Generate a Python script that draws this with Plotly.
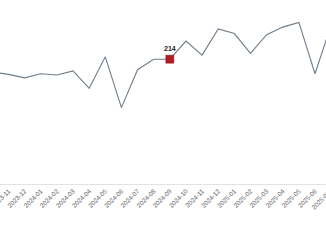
import plotly.graph_objects as go

months = ["2023-10", "2023-11", "2023-12", "2024-01", "2024-02", "2024-03", "2024-04",
          "2024-05", "2024-06", "2024-07", "2024-08", "2024-09", "2024-10", "2024-11",
          "2024-12", "2025-01", "2025-02", "2025-03", "2025-04", "2025-05", "2025-06",
          "2025-07"]
values = [192, 188, 182, 189, 187, 194, 164, 218, 131, 196, 214, 214, 245, 221,
          266, 258, 224, 256, 269, 277, 189, 273]
highlight_month = "2024-09"

x_range = [0.473, 20.68]
hi_idx = months.index(highlight_month)
hi_val = values[hi_idx]
font_family = "Liberation Sans, Arial, sans-serif"
tick_size = 6.4

fig = go.Figure()
fig.add_trace(go.Scatter(
    x=months, y=values, mode="lines",
    line=dict(color="#6f7d8b", width=1.1),
    hoverinfo="skip", showlegend=False,
))
fig.add_trace(go.Scatter(
    x=[highlight_month], y=[hi_val], mode="markers+text",
    marker=dict(symbol="square", size=8, color="#b01c22",
                line=dict(color="#8a1218", width=0.5)),
    text=["<b>%d</b>" % hi_val], textposition="top center",
    textfont=dict(family=font_family, size=7, color="#222222"),
    showlegend=False,
))

# partially visible tick label of the last month (outside the visible range)
last_idx = len(months) - 1
frac = (last_idx - x_range[0]) / (x_range[1] - x_range[0])
fig.add_annotation(
    x=frac, xref="paper", y=0, yref="paper",
    text=months[-1], showarrow=False, textangle=-45,
    xanchor="right", yanchor="top", yshift=-2, xshift=4,
    font=dict(family=font_family, size=tick_size, color="#666666"),
)

fig.update_layout(
    width=326, height=245,
    margin=dict(l=0, r=0, t=0, b=61, autoexpand=False),
    paper_bgcolor="white", plot_bgcolor="white",
    xaxis=dict(
        type="category", range=x_range, automargin=False,
        tickangle=-45, showgrid=False, zeroline=False,
        showline=True, linecolor="#e2e2e2", linewidth=1,
        tickfont=dict(family=font_family, size=tick_size, color="#666666"),
        ticks="",
    ),
    yaxis=dict(range=[0, 315.5], visible=False, showgrid=False, zeroline=False,
               automargin=False),
)
fig.write_html("out.html")
